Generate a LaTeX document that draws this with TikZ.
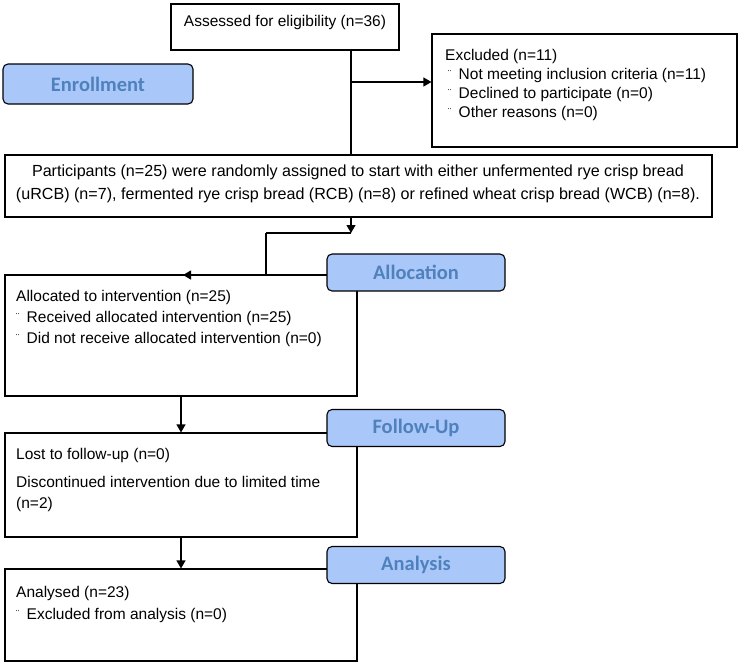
\documentclass[tikz,border=0pt]{standalone}
\usepackage{fontspec}
\usetikzlibrary{arrows.meta}
\setmainfont{Liberation Sans}
\newfontfamily\stagefont{Carlito}
\definecolor{stagefill}{RGB}{170,199,250}
\definecolor{stageink}{RGB}{79,129,189}
\newcommand{\dotmark}{\makebox[10.5pt][l]{\fontsize{10}{10}\selectfont\raisebox{2pt}{¨}}}

\tikzset{
  box/.style={draw, line width=1.1pt, inner sep=0pt},
  stage/.style={draw, line width=1.1pt, rounded corners=5pt, fill=stagefill,
    text=stageink, font=\stagefont\bfseries\fontsize{20.5}{24}\selectfont,
    minimum width=178pt, minimum height=37pt, inner sep=0pt},
  txt/.style={anchor=north west, align=left, inner sep=0pt,
    font=\fontsize{15.5}{21}\selectfont},
  link/.style={line width=1.1pt},
  arr/.style={link, -{Triangle[length=8pt,width=9pt]}},
}

\begin{document}
\begin{tikzpicture}[x=1pt,y=-1pt]
  \useasboundingbox (0,0) rectangle (740,664);

  % boxes
  \node[box, minimum width=228pt, minimum height=46pt]  (assess) at (285,27)    {};
  \node[box, minimum width=305pt, minimum height=113pt] (excl)   at (584.5,90.5) {};
  \node[box, minimum width=707pt, minimum height=62pt]  (partic) at (358.5,186) {};
  \node[box, minimum width=352pt, minimum height=121pt] (alloc)  at (181,335.5) {};
  \node[box, minimum width=352pt, minimum height=104pt] (lost)   at (181,485)   {};
  \node[box, minimum width=352pt, minimum height=92pt]  (anal)   at (181,615)   {};

  % connectors
  \coordinate (j1) at (351,82);
  \coordinate (j2) at (351,233);
  \coordinate (j3) at (266,233);
  \coordinate (j4) at (183,275);
  \draw[link] (assess.south -| j1) -- (partic.north -| j1);
  \draw[arr]  (j1) -- (excl.west |- j1);
  \draw[arr]  (partic.south -| j2) -- (j2);
  \draw[link] (j2) -- (j3);
  \draw[arr]  (j3) |- (j4);
  \draw[arr]  (alloc.south) -- (lost.north);
  \draw[arr]  (lost.south) -- (anal.north);

  % stage labels
  \node[stage, minimum width=190pt, minimum height=40pt] (enrol) at (98,84) {Enrollment};
  \node[stage] (allocst)  at (416,272.5) {Allocation};
  \node[stage] (followst) at (416,428)   {Follow-Up};
  \node[stage] (analst)   at (416,565)   {Analysis};

  % texts
  \node[font=\fontsize{15.5}{21}\selectfont] (assesstxt) at (285,22) {Assessed for eligibility (n=36)};
  \node[txt, font=\fontsize{15.5}{19}\selectfont] (excltxt) at (445,49.5)
    {Excluded (n=11)\\
     \hspace{3pt}\dotmark Not meeting inclusion criteria (n=11)\\
     \hspace{3pt}\dotmark Declined to participate (n=0)\\
     \hspace{3pt}\dotmark Other reasons (n=0)};
  \node[txt, anchor=center, align=center, font=\fontsize{16.1}{23}\selectfont] (partictxt) at (358,184)
    {Participants (n=25) were randomly assigned to start with either unfermented rye crisp bread\\
     (uRCB) (n=7), fermented rye crisp bread (RCB) (n=8) or refined wheat crisp bread (WCB) (n=8).};
  \node[txt] (alloctxt) at (16,290.5)
    {Allocated to intervention (n=25)\\
     \dotmark Received allocated intervention (n=25)\\
     \dotmark Did not receive allocated intervention (n=0)};
  \node[txt] (losttxt) at (16,448.5)
    {Lost to follow-up (n=0)\\[7pt]
     Discontinued intervention due to limited time\\
     (n=2)};
  \node[txt, font=\fontsize{15.5}{22}\selectfont] (analtxt) at (16,586.5)
    {Analysed (n=23)\\
     \dotmark Excluded from analysis (n=0)};

\end{tikzpicture}
\end{document}
